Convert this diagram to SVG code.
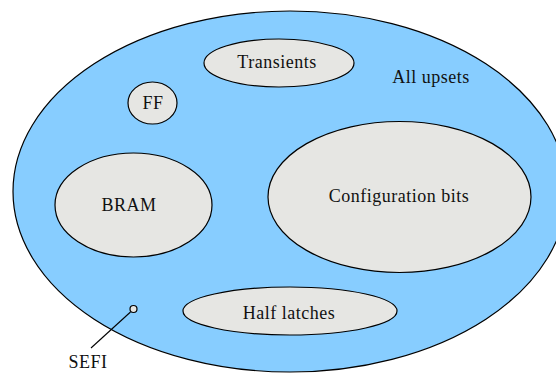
<svg xmlns="http://www.w3.org/2000/svg" width="556" height="374" viewBox="0 0 556 374">
<style>
.outer{fill:#87cdff;stroke:#000;stroke-width:1.2}
.inner{fill:#e6e6e3;stroke:#000;stroke-width:1.2}
text{font-family:"Liberation Serif","DejaVu Serif",serif;font-size:18px;letter-spacing:0.5px;fill:#111;text-anchor:middle}
.conn{stroke:#000;stroke-width:1.1;fill:none}
</style>
<rect width="556" height="374" fill="#fff"/>
<g id="all-upsets">
<ellipse class="outer" cx="290" cy="191.5" rx="277" ry="180.5"/>
<text x="431" y="83">All upsets</text>
</g>
<g id="transients">
<ellipse class="inner" cx="279" cy="63" rx="75" ry="24"/>
<text x="277" y="68">Transients</text>
</g>
<g id="ff">
<ellipse class="inner" cx="152.5" cy="103" rx="24.5" ry="21"/>
<text x="153" y="109">FF</text>
</g>
<g id="bram">
<ellipse class="inner" cx="133.5" cy="205" rx="78.5" ry="52"/>
<text x="129" y="211">BRAM</text>
</g>
<g id="config">
<ellipse class="inner" cx="399.5" cy="197" rx="131.5" ry="75.5"/>
<text x="399" y="202">Configuration bits</text>
</g>
<g id="half-latches">
<ellipse class="inner" cx="290" cy="311" rx="107" ry="24"/>
<text x="289" y="319">Half latches</text>
</g>
<g id="connectors">
<line class="conn" x1="130.5" y1="312" x2="91" y2="348"/>
</g>
<g id="sefi">
<circle class="inner" cx="133.5" cy="309" r="3.5"/>
<text x="88" y="368">SEFI</text>
</g>
</svg>
